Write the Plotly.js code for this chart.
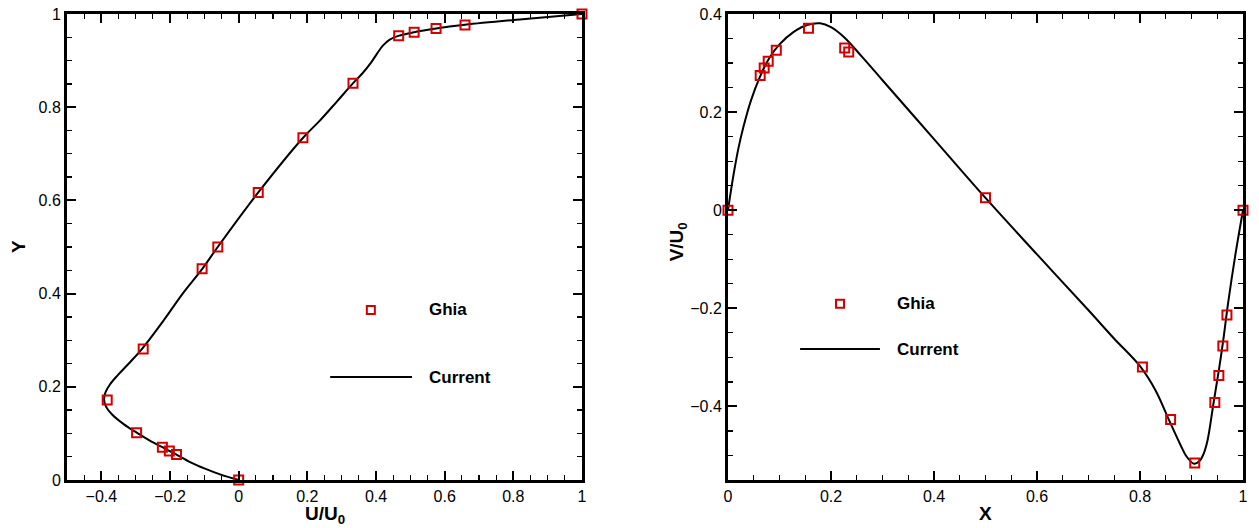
<!DOCTYPE html>
<html>
<head>
<meta charset="utf-8">
<script src="https://cdn.plot.ly/plotly-3.0.1.min.js"></script>
<style>html,body{margin:0;padding:0;background:#fff;}#chart{width:1259px;height:528px;}</style>
</head>
<body>
<div id="chart"></div>
<script>
// Ghia et al. — u along vertical centreline
const ghiaY = [1.0000, 0.9766, 0.9688, 0.9609, 0.9531, 0.8516, 0.7344, 0.6172, 0.5000, 0.4531, 0.2813, 0.1719, 0.1016, 0.0703, 0.0625, 0.0547, 0.0000];
const ghiaU = [1.0, 0.65928, 0.57492, 0.51117, 0.46604, 0.33304, 0.18719, 0.05702, -0.06080, -0.10648, -0.27805, -0.38289, -0.29730, -0.22220, -0.20196, -0.18109, 0.0];
// Ghia et al. — v along horizontal centreline
const ghiaX = [1.0000, 0.9688, 0.9609, 0.9531, 0.9453, 0.9063, 0.8594, 0.8047, 0.5000, 0.2344, 0.2266, 0.1563, 0.0938, 0.0781, 0.0703, 0.0625, 0.0000];
const ghiaV = [0.0, -0.21388, -0.27669, -0.33714, -0.39188, -0.51550, -0.42665, -0.31966, 0.02526, 0.32235, 0.33075, 0.37095, 0.32627, 0.30353, 0.29012, 0.27485, 0.0];
// Current solution
const curY = [0, 0.011, 0.025, 0.038, 0.0547, 0.0625, 0.0703, 0.085, 0.1016, 0.12, 0.14, 0.157, 0.172, 0.188, 0.205, 0.225, 0.25, 0.281, 0.343, 0.4, 0.453, 0.5, 0.617, 0.734, 0.77, 0.812, 0.849, 0.874, 0.895, 0.915, 0.932, 0.945, 0.953, 0.961, 0.969, 0.977, 0.989, 1.0];
const curU = [0, -0.05, -0.10, -0.14, -0.181, -0.202, -0.222, -0.26, -0.297, -0.335, -0.368, -0.386, -0.392, -0.388, -0.375, -0.352, -0.32, -0.282, -0.218, -0.163, -0.106, -0.061, 0.057, 0.187, 0.235, 0.286, 0.330, 0.362, 0.385, 0.403, 0.42, 0.44, 0.465, 0.511, 0.575, 0.659, 0.827, 1.0];
const curX = [0, 0.005, 0.012, 0.02, 0.03, 0.045, 0.062, 0.08, 0.1, 0.127, 0.155, 0.179, 0.2, 0.226, 0.26, 0.3, 0.4, 0.5, 0.6, 0.7, 0.75, 0.8, 0.83, 0.856, 0.878, 0.891, 0.905, 0.915, 0.923, 0.931, 0.9425, 0.953, 0.961, 0.971, 0.985, 1];
const curV = [0, 0.035, 0.08, 0.125, 0.17, 0.225, 0.272, 0.31, 0.338, 0.363, 0.378, 0.381, 0.373, 0.352, 0.313, 0.265, 0.145, 0.025, -0.09, -0.204, -0.262, -0.318, -0.367, -0.427, -0.477, -0.503, -0.517, -0.512, -0.498, -0.47, -0.395, -0.327, -0.27, -0.19, -0.092, 0];

const legendLabels = ['Ghia', 'Current'];
const xTitles = ['U/U<sub>0</sub>', 'X'];
const yTitles = ['Y', 'V/U<sub>0</sub>'];

const RED = '#d40000';
const FONT = 'Liberation Sans, Arial, sans-serif';

const lineStyle = {color: '#000', width: 2, shape: 'spline', smoothing: 1};
const markStyle = {symbol: 'square-open', size: 9, color: RED, line: {width: 2, color: RED}};

const traces = [
  {x: curU, y: curY, mode: 'lines', line: lineStyle, xaxis: 'x', yaxis: 'y', showlegend: false},
  {x: ghiaU, y: ghiaY, mode: 'markers', marker: markStyle, xaxis: 'x', yaxis: 'y', showlegend: false, cliponaxis: false},
  {x: curX, y: curV, mode: 'lines', line: lineStyle, xaxis: 'x2', yaxis: 'y2', showlegend: false},
  {x: ghiaX, y: ghiaV, mode: 'markers', marker: markStyle, xaxis: 'x2', yaxis: 'y2', showlegend: false, cliponaxis: false}
];

function ax(extra) {
  return Object.assign({
    showgrid: false, zeroline: false, showline: true, linecolor: '#000', linewidth: 3,
    mirror: 'allticks', ticks: 'inside', ticklen: 9, tickwidth: 2, tickcolor: '#000',
    minor: {ticks: 'inside', ticklen: 5, tickwidth: 1.3, tickcolor: '#000', dtick: 0.05},
    tickfont: {family: FONT, size: 16, color: '#000'}, fixedrange: true
  }, extra);
}

const W = 1259;
const LF = {family: FONT, size: 17, color: '#000', weight: 'bold'};
const TF = {family: FONT, size: 19, color: '#000', weight: 'bold'};
const layout = {
  width: 1259, height: 528,
  margin: {l: 0, r: 0, t: 14, b: 48},
  paper_bgcolor: '#fff', plot_bgcolor: 'rgba(0,0,0,0)',
  showlegend: false,
  xaxis: ax({domain: [67 / W, 582 / W], range: [-0.5, 1], dtick: 0.2, tick0: 0, anchor: 'y'}),
  yaxis: ax({domain: [0, 1], range: [0, 1], dtick: 0.2, tick0: 0, anchor: 'x'}),
  xaxis2: ax({domain: [728 / W, 1243 / W], range: [0, 1], dtick: 0.2, tick0: 0, anchor: 'y2'}),
  yaxis2: ax({domain: [0, 1], range: [-0.55, 0.4], dtick: 0.2, tick0: 0, anchor: 'x2'}),
  shapes: [
    {type: 'rect', xref: 'x domain', yref: 'y domain', xsizemode: 'pixel', ysizemode: 'pixel',
     xanchor: 0.590, yanchor: 0.365, x0: -4, x1: 4, y0: -4, y1: 4, line: {color: RED, width: 2}},
    {type: 'line', xref: 'x domain', yref: 'y domain', x0: 0.511, x1: 0.670, y0: 0.221, y1: 0.221, line: {color: '#000', width: 2}},
    {type: 'rect', xref: 'x2 domain', yref: 'y2 domain', xsizemode: 'pixel', ysizemode: 'pixel',
     xanchor: 0.2175, yanchor: 0.378, x0: -4, x1: 4, y0: -4, y1: 4, line: {color: RED, width: 2}},
    {type: 'line', xref: 'x2 domain', yref: 'y2 domain', x0: 0.140, x1: 0.295, y0: 0.281, y1: 0.281, line: {color: '#000', width: 2}}
  ],
  annotations: [
    {text: legendLabels[0], xref: 'x domain', yref: 'y domain', x: 0.699, y: 0.365, xanchor: 'left', yanchor: 'middle', showarrow: false, font: LF},
    {text: legendLabels[1], xref: 'x domain', yref: 'y domain', x: 0.699, y: 0.221, xanchor: 'left', yanchor: 'middle', showarrow: false, font: LF},
    {text: legendLabels[0], xref: 'x2 domain', yref: 'y2 domain', x: 0.324, y: 0.378, xanchor: 'left', yanchor: 'middle', showarrow: false, font: LF},
    {text: legendLabels[1], xref: 'x2 domain', yref: 'y2 domain', x: 0.324, y: 0.281, xanchor: 'left', yanchor: 'middle', showarrow: false, font: LF},
    {text: xTitles[0], xref: 'x domain', yref: 'paper', x: 0.5, y: -0.046, xanchor: 'center', yanchor: 'top', showarrow: false, font: TF},
    {text: xTitles[1], xref: 'x2 domain', yref: 'paper', x: 0.5, y: -0.046, xanchor: 'center', yanchor: 'top', showarrow: false, font: TF},
    {text: yTitles[0], xref: 'paper', yref: 'y domain', x: 18 / W, y: 0.5, xanchor: 'center', yanchor: 'middle', textangle: -90, showarrow: false, font: TF},
    {text: yTitles[1], xref: 'paper', yref: 'y2 domain', x: 678 / W, y: 0.51, xanchor: 'center', yanchor: 'middle', textangle: -90, showarrow: false, font: TF}
  ]
};

Plotly.newPlot('chart', traces, layout, {displayModeBar: false, staticPlot: true});
</script>
</body>
</html>
